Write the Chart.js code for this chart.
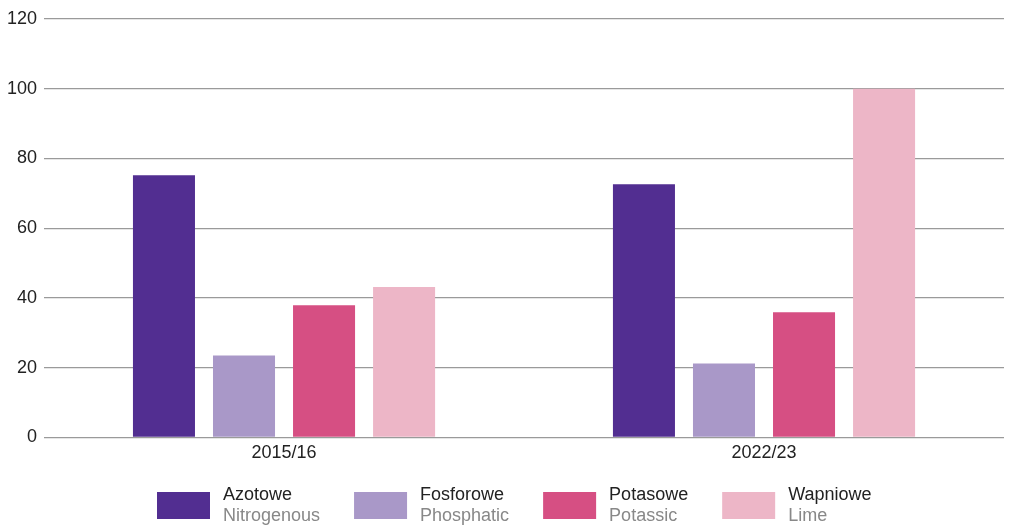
<!DOCTYPE html>
<html>
<head>
<meta charset="utf-8">
<script src="https://cdn.jsdelivr.net/npm/chart.js@4/dist/chart.umd.min.js"></script>
<style>
  html, body { margin: 0; padding: 0; background: #fff; }
  #wrap { width: 1009px; height: 525px; position: relative; }
</style>
</head>
<body>
<div id="wrap"><canvas id="fertChart" width="1009" height="525"></canvas></div>
<script>
// データ
const years = ['2015/16', '2022/23'];
const labelsPl = ['Azotowe', 'Fosforowe', 'Potasowe', 'Wapniowe'];
const labelsEn = ['Nitrogenous', 'Phosphatic', 'Potassic', 'Lime'];
const azotowe = [75.2, 72.6];
const fosforowe = [23.5, 21.2];
const potasowe = [37.9, 35.9];
const wapniowe = [43.1, 100];
const yTicks = [0, 20, 40, 60, 80, 100, 120];

const colors = ['#522e91', '#a998c8', '#d64f83', '#edb6c7'];
const seriesValues = [azotowe, fosforowe, potasowe, wapniowe];

const FONT = '"Liberation Sans", Arial, sans-serif';

// 凡例（2行ラベル）をキャンバスに描く
const twoLineLegend = {
    id: 'twoLineLegend',
    afterDraw(chart) {
        const ctx = chart.ctx;
        ctx.save();
        ctx.font = '18px ' + FONT;
        ctx.textBaseline = 'middle';
        let x = 157;
        const boxW = 53, boxH = 27, boxTop = 492;
        chart.data.datasets.forEach((ds, i) => {
            ctx.fillStyle = ds.backgroundColor;
            ctx.fillRect(x, boxTop, boxW, boxH);
            const tx = x + boxW + 13;
            ctx.fillStyle = '#222';
            ctx.fillText(ds.label, tx, 495);
            ctx.fillStyle = '#888';
            ctx.fillText(labelsEn[i], tx, 516);
            const w = Math.max(ctx.measureText(ds.label).width, ctx.measureText(labelsEn[i]).width);
            x = tx + w + 34;
        });
        ctx.restore();
    }
};

const fertChart = new Chart(document.getElementById('fertChart'), {
    type: 'bar',
    data: {
        labels: years,
        datasets: labelsPl.map((name, i) => ({
            label: name,
            data: seriesValues[i],
            backgroundColor: colors[i],
            borderWidth: 0,
            categoryPercentage: 0.667,
            barPercentage: 0.775
        }))
    },
    options: {
        responsive: false,
        animation: false,
        layout: { padding: { left: 0, right: 5, top: 19, bottom: 64 } },
        plugins: {
            legend: { display: false },
            tooltip: { enabled: false }
        },
        scales: {
            x: {
                grid: { display: false },
                border: { display: false },
                ticks: { color: '#222', font: { family: FONT, size: 18 }, padding: -3 }
            },
            y: {
                min: 0,
                max: 120,
                afterBuildTicks: axis => { axis.ticks = yTicks.map(v => ({ value: v })); },
                grid: { color: '#9a9a9a', lineWidth: 1.3, drawTicks: false },
                border: { display: false },
                ticks: { color: '#222', font: { family: FONT, size: 18 }, padding: 7 }
            }
        }
    },
    plugins: [twoLineLegend]
});
</script>
</body>
</html>
